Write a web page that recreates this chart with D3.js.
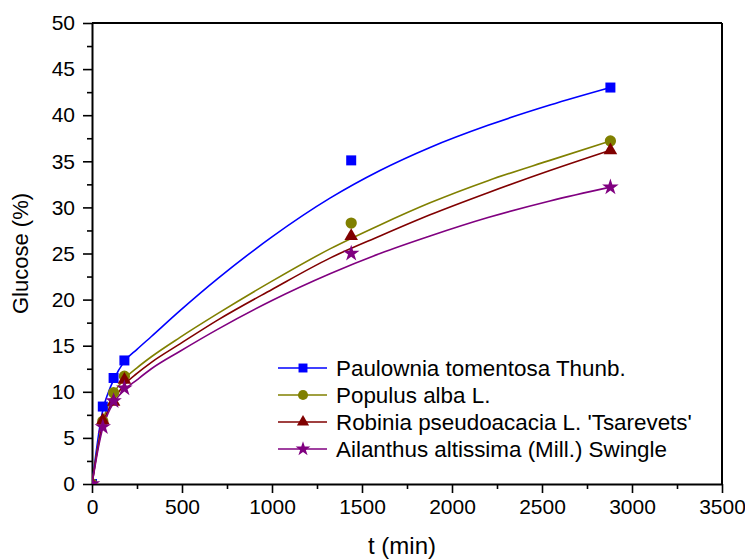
<!DOCTYPE html>
<html>
<head>
<meta charset="utf-8">
<script src="https://cdn.jsdelivr.net/npm/d3@7"></script>
<style>
  html, body { margin: 0; padding: 0; background: #fff; }
  svg { display: block; }
  text { font-family: "Liberation Sans", Arial, sans-serif; fill: #000; }
</style>
</head>
<body>
<svg id="chart" width="745" height="559"></svg>
<script>
// Measured hydrolysis points (time in minutes, glucose yield in %)
const sampleTimes = [0, 60, 120, 180, 1440, 2880];
const paulowniaPts = [0, 8.4, 11.5, 13.4, 35.1, 43.0];
const populusPts   = [0, 6.8, 9.9, 11.7, 28.3, 37.2];
const robiniaPts   = [0, 6.9, 8.9, 11.3, 26.9, 36.2];
const ailanthusPts = [0, 6.2, 9.0, 10.4, 25.0, 32.2];

// Fitted kinetic curves, sampled along the time axis
const fitTimes = [0, 20, 40, 60, 90, 120, 180, 250, 330, 489, 700, 1000, 1322, 1600, 1878, 2200, 2544, 2880];
const paulowniaFit = [0, 3.0, 5.8, 8.0, 9.9, 11.3, 13.3, 14.6, 16.0, 18.8, 22.3, 26.8, 31.0, 34.0, 36.5, 38.9, 41.1, 43.0];
const populusFit   = [0, 2.6, 4.9, 6.8, 8.5, 9.8, 11.4, 12.6, 13.8, 15.9, 18.5, 22.0, 25.5, 28.1, 30.5, 32.9, 35.1, 37.2];
const robiniaFit   = [0, 2.5, 4.7, 6.5, 8.0, 9.1, 10.8, 12.0, 13.2, 15.2, 17.8, 21.1, 24.5, 26.9, 29.2, 31.6, 34.0, 36.2];
const ailanthusFit = [0, 2.3, 4.4, 6.1, 7.7, 8.8, 10.2, 11.3, 12.5, 14.4, 16.8, 19.9, 22.8, 25.0, 26.9, 28.9, 30.7, 32.2];

const seriesNames = [
  "Paulownia tomentosa Thunb.",
  "Populus alba L.",
  "Robinia pseudoacacia L. 'Tsarevets'",
  "Ailanthus altissima (Mill.) Swingle"
];
const seriesColors = ["#0000ff", "#808000", "#800000", "#800080"];
const seriesSymbols = [d3.symbolSquare, d3.symbolCircle, d3.symbolTriangle, d3.symbolStar];
const symbolSizes = [100, 100, 80, 85];

const xTicks = [0, 500, 1000, 1500, 2000, 2500, 3000, 3500];
const yTicks = [0, 5, 10, 15, 20, 25, 30, 35, 40, 45, 50];

const pointSets = [paulowniaPts, populusPts, robiniaPts, ailanthusPts];
const fitSets = [paulowniaFit, populusFit, robiniaFit, ailanthusFit];

const margin = { left: 92, top: 23, right: 23, bottom: 75 };
const W = 745, H = 559;
const svg = d3.select("#chart");

const x = d3.scaleLinear().domain([0, 3500]).range([margin.left, W - margin.right]);
const y = d3.scaleLinear().domain([0, 50]).range([H - margin.bottom, margin.top]);

svg.append("defs").append("clipPath").attr("id", "plotClip")
  .append("rect")
  .attr("x", x(0)).attr("y", y(50))
  .attr("width", x(3500) - x(0)).attr("height", y(0) - y(50));

const fontSize = 21;

// Minor ticks
const xMinor = d3.range(250, 3500, 500);
const yMinor = d3.range(2.5, 50, 5);

const xAxisG = svg.append("g").attr("transform", `translate(0,${y(0)})`);
xAxisG.call(d3.axisBottom(x).tickValues(xMinor).tickSize(5).tickFormat(""));
xAxisG.call(g => g.select(".domain").remove());
svg.append("g").attr("transform", `translate(0,${y(0)})`)
  .call(d3.axisBottom(x).tickValues(xTicks).tickSize(9).tickSizeOuter(0).tickPadding(6).tickFormat(d3.format("d")));

const yAxisG = svg.append("g").attr("transform", `translate(${x(0)},0)`);
yAxisG.call(d3.axisLeft(y).tickValues(yMinor).tickSize(5).tickFormat(""));
yAxisG.call(g => g.select(".domain").remove());
svg.append("g").attr("transform", `translate(${x(0)},0)`)
  .call(d3.axisLeft(y).tickValues(yTicks).tickSize(9).tickSizeOuter(0).tickPadding(8).tickFormat(d3.format("d")));

svg.selectAll(".tick line").attr("stroke", "#000").attr("stroke-width", 1.6);
svg.selectAll(".domain").attr("stroke", "#000").attr("stroke-width", 2);
svg.selectAll(".tick text")
  .style("font-size", fontSize + "px")
  .style("font-family", "'Liberation Sans', Arial, sans-serif")
  .attr("fill", "#000");

// Top and right frame lines
svg.append("line").attr("x1", x(0)).attr("x2", x(3500)).attr("y1", y(50)).attr("y2", y(50))
  .attr("stroke", "#000").attr("stroke-width", 2);
svg.append("line").attr("x1", x(3500)).attr("x2", x(3500)).attr("y1", y(50)).attr("y2", y(0))
  .attr("stroke", "#000").attr("stroke-width", 2);

// Axis titles
svg.append("text")
  .attr("x", 402).attr("y", 554)
  .attr("text-anchor", "middle")
  .style("font-size", "24px")
  .text("t (min)");
svg.append("text")
  .attr("transform", `translate(28,${(y(0) + y(50)) / 2}) rotate(-90)`)
  .attr("text-anchor", "middle")
  .style("font-size", "22px")
  .text("Glucose (%)");

// Fitted curves
const plot = svg.append("g").attr("clip-path", "url(#plotClip)");
const line = d3.line()
  .x(d => x(d[0]))
  .y(d => y(d[1]))
  .curve(d3.curveMonotoneX);

fitSets.forEach((vals, i) => {
  plot.append("path")
    .datum(fitTimes.map((t, k) => [t, vals[k]]))
    .attr("fill", "none")
    .attr("stroke", seriesColors[i])
    .attr("stroke-width", 1.6)
    .attr("d", line);
});

// Measured points
pointSets.forEach((vals, i) => {
  const sym = d3.symbol().type(seriesSymbols[i]).size(symbolSizes[i]);
  plot.selectAll(null)
    .data(sampleTimes.map((t, k) => [t, vals[k]]))
    .enter().append("path")
    .attr("d", sym)
    .attr("transform", d => `translate(${x(d[0])},${y(d[1])})`)
    .attr("fill", seriesColors[i]);
});

// Legend
const legend = svg.append("g").attr("transform", "translate(278,368)");
seriesNames.forEach((name, i) => {
  const row = legend.append("g").attr("transform", `translate(0,${i * 27})`);
  row.append("line").attr("x1", 0).attr("x2", 49).attr("y1", 0).attr("y2", 0)
    .attr("stroke", seriesColors[i]).attr("stroke-width", 1.6);
  row.append("path")
    .attr("d", d3.symbol().type(seriesSymbols[i]).size(symbolSizes[i] * 0.8))
    .attr("transform", "translate(25,0)")
    .attr("fill", seriesColors[i]);
  row.append("text")
    .attr("x", 58).attr("y", 0).attr("dy", "0.35em")
    .style("font-size", "22.4px")
    .text(name);
});
</script>
</body>
</html>
